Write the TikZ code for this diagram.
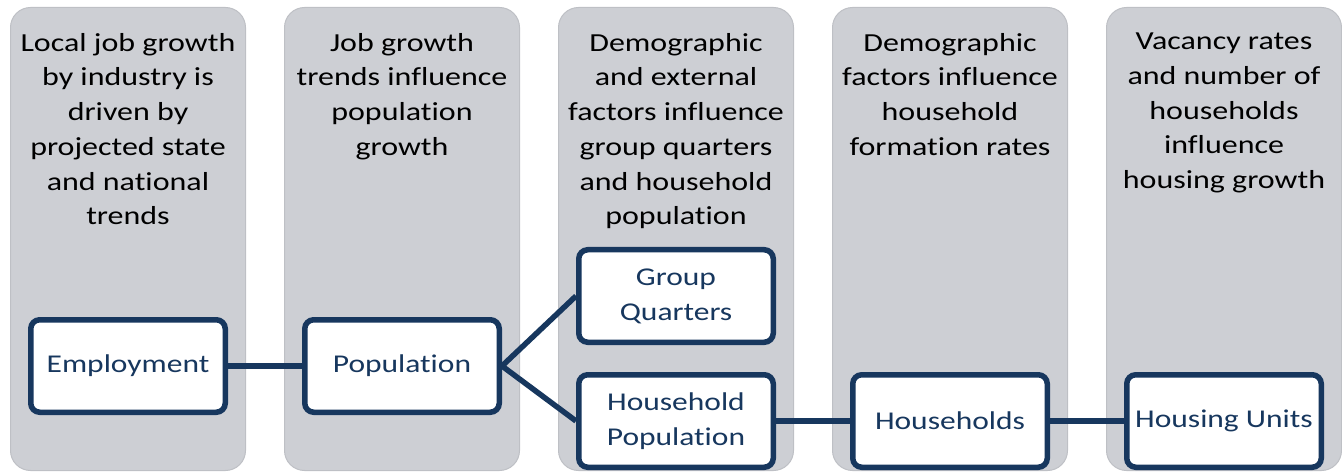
\documentclass[tikz,border=0pt]{standalone}
\usepackage{fontspec}
\setmainfont{Carlito}[FakeStretch=1.23,Ligatures=NoCommon]
\usepackage{tikz}
\usetikzlibrary{positioning}

\definecolor{navy}{HTML}{17375E}
\definecolor{colgray}{HTML}{CDCFD4}
\definecolor{colline}{HTML}{BEC0C5}

\begin{document}
\begin{tikzpicture}[-,auto,x=1pt,y=1pt,node distance=274pt,
                    col node/.style={rectangle,rounded corners=20pt,fill=colgray,draw=colline,line width=1pt,minimum width=235pt,minimum height=463pt},
                    title node/.style={align=center,inner sep=0pt,font=\fontsize{26}{34.7}\selectfont},
                    main node/.style={rectangle,rounded corners=9pt,draw=navy,line width=5.5pt,fill=white,text=navy,minimum width=194.5pt,minimum height=92.5pt,inner sep=3pt,align=center,font=\fontsize{25.6}{35}\selectfont}]

  \useasboundingbox (0,0) rectangle (1342,472);

  \node[col node] (c1) at (128,233) {};
  \node[col node] (c2) [right of=c1] {};
  \node[col node] (c3) [right of=c2] {};
  \node[col node] (c4) [right of=c3] {};
  \node[col node] (c5) [right of=c4] {};

  \node[title node] (t1) [below=26pt of c1.north] {Local job growth\\by industry is\\driven by\\projected state\\and national\\trends};
  \node[title node] (t2) [below=26pt of c2.north] {Job growth\\trends influence\\population\\growth};
  \node[title node] (t3) [below=26pt of c3.north] {Demographic\\and external\\factors influence\\group quarters\\and household\\population};
  \node[title node] (t4) [below=26pt of c4.north] {Demographic\\factors influence\\household\\formation rates};
  \node[title node] (t5) [below=26pt of c5.north] {Vacancy rates\\and number of\\households\\influence\\housing growth};

  \node[main node] (1) at (128,106) {Employment};
  \node[main node] (2) [right of=1] {Population};
  \node[main node] (3) [right of=2,yshift=70pt] {Group\\Quarters};
  \node[main node] (4) [right of=2,yshift=-55pt] {Household\\Population};
  \node[main node] (5) [right of=4] {Households};
  \node[main node] (6) [right of=5] {Housing Units};

  \path[every edge/.style={draw=navy,line width=5.5pt}]
    (1) edge (2)
    (2.east) edge (3.west)
             edge (4.west)
    (4) edge (5)
    (5) edge (6);
\end{tikzpicture}
\end{document}
